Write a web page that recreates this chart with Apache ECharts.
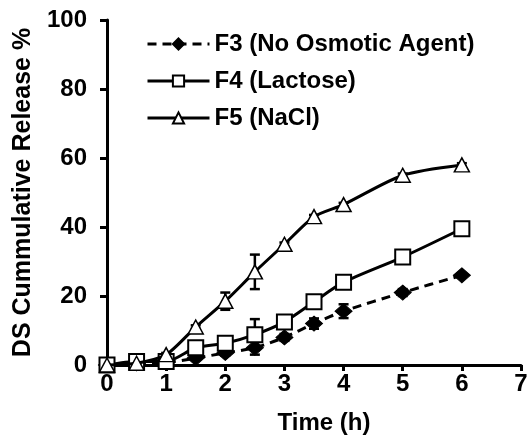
<!DOCTYPE html>
<html>
<head>
<meta charset="utf-8">
<script src="https://cdn.jsdelivr.net/npm/echarts@6/dist/echarts.min.js"></script>
<style>
  html, body { margin: 0; padding: 0; background: #fff; }
  #chart { width: 529px; height: 435px; }
</style>
</head>
<body>
<div id="chart"></div>
<script>
  // time points (h)
  const time = [0, 0.5, 1, 1.5, 2, 2.5, 3, 3.5, 4, 5, 6];
  // cumulative release %
  const f3 = [0, 0.5, 0.7, 2, 3.5, 5, 8, 12, 15.6, 21, 26];
  const f4 = [0, 1, 1, 5, 6.3, 8.8, 12.5, 18.3, 24, 31.3, 39.5];
  const f5 = [0, 0.5, 3, 11, 18.5, 27, 35, 43, 46.5, 55, 58];
  // standard deviations (error bars)
  const f3Err = [0, 0, 0, 0.5, 0.8, 2, 1, 1.5, 2, 1, 0.5];
  const f4Err = [0, 0, 0, 0.5, 1.5, 4.5, 0.5, 0.5, 0.5, 0.5, 0.5];
  const f5Err = [0, 0, 0.5, 0.5, 2.5, 5, 0.5, 0.5, 0.5, 0.5, 0.5];

  const seriesNames = ["F3 (No Osmotic Agent)", "F4 (Lactose)", "F5 (NaCl)"];

  const pairs = (ys) => time.map((t, i) => [t, ys[i]]);

  // error bar as custom series
  function errorBars(ys, errs) {
    return {
      type: "custom",
      silent: true,
      z: 1,
      data: time.map((t, i) => [t, ys[i] - errs[i], ys[i] + errs[i]]),
      renderItem: (params, api) => {
        const lo = api.coord([api.value(0), api.value(1)]);
        const hi = api.coord([api.value(0), api.value(2)]);
        const w = 5;
        const st = { stroke: "#000", lineWidth: 2.5 };
        return {
          type: "group",
          children: [
            { type: "line", shape: { x1: lo[0], y1: lo[1], x2: hi[0], y2: hi[1] }, style: st },
            { type: "line", shape: { x1: lo[0] - w, y1: lo[1], x2: lo[0] + w, y2: lo[1] }, style: st },
            { type: "line", shape: { x1: hi[0] - w, y1: hi[1], x2: hi[0] + w, y2: hi[1] }, style: st },
          ],
        };
      },
    };
  }

  const chart = echarts.init(document.getElementById("chart"));
  const font = "Liberation Sans, Arial, sans-serif";

  const option = {
    animation: false,
    grid: { left: 107, right: 8, top: 20, bottom: 70, containLabel: false, outerBoundsMode: "none" },
    legend: {
      orient: "vertical",
      left: 141,
      top: 27,
      itemWidth: 62,
      itemHeight: 14,
      itemGap: 13,
      data: seriesNames,
      lineStyle: { width: 3 },
      textStyle: { fontFamily: font, fontWeight: "bold", fontSize: 24, color: "#000" },
    },
    xAxis: {
      type: "value",
      min: 0,
      max: 7,
      interval: 1,
      name: "Time (h)",
      nameLocation: "middle",
      nameGap: 46,
      nameTextStyle: { fontFamily: font, fontWeight: "bold", fontSize: 24, color: "#000", padding: [0, 0, 0, 20] },
      axisLine: { lineStyle: { color: "#000", width: 3 } },
      axisTick: { inside: false, length: 6, lineStyle: { color: "#000", width: 3 } },
      axisLabel: { fontFamily: font, fontWeight: "bold", fontSize: 24, color: "#000", margin: 7 },
      splitLine: { show: false },
    },
    yAxis: {
      type: "value",
      min: 0,
      max: 100,
      interval: 20,
      name: "DS Cummulative Release %",
      nameLocation: "middle",
      nameGap: 71,
      nameTextStyle: { fontFamily: font, fontWeight: "bold", fontSize: 25, color: "#000" },
      axisLine: { show: true, lineStyle: { color: "#000", width: 3 } },
      axisTick: { show: true, length: 7, lineStyle: { color: "#000", width: 3 } },
      axisLabel: { fontFamily: font, fontWeight: "bold", fontSize: 24, color: "#000", margin: 20 },
      splitLine: { show: false },
    },
    series: [
      errorBars(f3, f3Err),
      errorBars(f4, f4Err),
      errorBars(f5, f5Err),
      {
        name: seriesNames[0],
        type: "line",
        data: pairs(f3),
        smooth: 0.25,
        z: 3,
        symbol: "diamond",
        symbolSize: [17, 15],
        lineStyle: { color: "#000", width: 3, type: [9, 6] },
        itemStyle: { color: "#000", borderColor: "#000", borderWidth: 1 },
      },
      {
        name: seriesNames[1],
        type: "line",
        data: pairs(f4),
        smooth: 0.25,
        z: 4,
        symbol: "rect",
        symbolSize: 15,
        lineStyle: { color: "#000", width: 3 },
        itemStyle: { color: "#fff", borderColor: "#000", borderWidth: 2 },
      },
      {
        name: seriesNames[2],
        type: "line",
        data: pairs(f5),
        smooth: 0.25,
        z: 5,
        symbol: "triangle",
        symbolSize: [15, 14],
        lineStyle: { color: "#000", width: 3 },
        itemStyle: { color: "#fff", borderColor: "#000", borderWidth: 1.5 },
      },
    ],
  };

  chart.setOption(option);
</script>
</body>
</html>
